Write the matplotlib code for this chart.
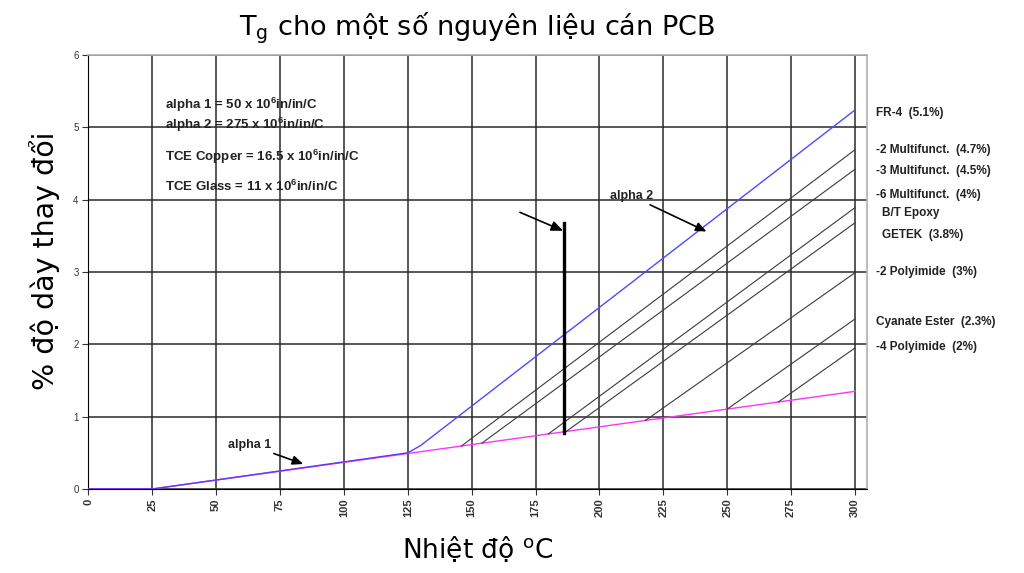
import numpy as np
import matplotlib
matplotlib.use("Agg")
import matplotlib.pyplot as plt

plt.rcParams["mathtext.fontset"] = "custom"
plt.rcParams["mathtext.rm"] = "Liberation Sans:bold"
plt.rcParams["mathtext.it"] = "Liberation Sans:bold"
plt.rcParams["mathtext.bf"] = "Liberation Sans:bold"

# ---- data ----
temp_alpha1 = [0, 25, 300]            # pink (alpha 1) curve, deg C
pct_alpha1 = [0.0, 0.0, 1.35]

temp_fr4 = [0, 25, 125, 130, 300]     # blue FR-4 curve
pct_fr4 = [0.0, 0.0, 0.5, 0.6, 5.24]

tg_values = [146, 154, 180, 187, 218, 250, 270]          # Tg of other laminates
pct_at_300 = [4.69, 4.42, 3.89, 3.68, 2.99, 2.35, 1.95]  # % change at 300 C

material_labels = ["FR-4  (5.1%)", "-2 Multifunct.  (4.7%)", "-3 Multifunct.  (4.5%)",
                   "-6 Multifunct.  (4%)", "B/T Epoxy", "GETEK  (3.8%)",
                   "-2 Polyimide  (3%)", "Cyanate Ester  (2.3%)", "-4 Polyimide  (2%)"]
label_y = [5.2, 4.69, 4.40, 4.065, 3.82, 3.51, 3.0, 2.31, 1.96]
label_indent = [0, 0, 0, 0, 1, 1, 0, 0, 0]

note_lines = ["alpha 1 = 50 x 10$^{6}$in/in/C", "alpha 2 = 275 x 10$^{6}$in/in/C",
              "TCE Copper = 16.5 x 10$^{6}$in/in/C", "TCE Glass = 11 x 10$^{6}$in/in/C"]
note_y = [5.31, 5.03, 4.59, 4.19]

x_ticks = list(range(0, 301, 25))
y_ticks = list(range(0, 7))

tg_marker_temp = 186.2
tg_marker_range = [0.78, 3.68]

# ---- figure ----
fig = plt.figure(figsize=(10.24, 5.73), dpi=100)
ax = fig.add_axes([88.3/1024, 1-489/573, (867-88.3)/1024, (489-55)/573])
ax.set_xlim(0, 304.7)
ax.set_ylim(0, 6)

ax.set_xticks(x_ticks)
ax.set_yticks(y_ticks)
ax.grid(True, color="#2a2a2a", lw=1.1)
ax.set_axisbelow(True)
for s in ["top", "right"]:
    ax.spines[s].set_color("#b0b0b0")
    ax.spines[s].set_linewidth(1.2)
ax.spines["left"].set_color("black")
ax.spines["bottom"].set_color("black")
ax.tick_params(axis="x", labelrotation=90, labelsize=8, length=4, colors="#333333", pad=3)
ax.tick_params(axis="y", labelsize=7, length=4, colors="#333333", pad=3)
for lab in ax.get_xticklabels():
    lab.set_family("Liberation Sans"); lab.set_fontweight("bold")
for lab in ax.get_yticklabels():
    lab.set_family("Liberation Sans")

# lines
ax.plot(temp_alpha1, pct_alpha1, color="#ff33ff", lw=1.0, zorder=3)
for tg, p in zip(tg_values, pct_at_300):
    y0 = np.interp(tg, temp_alpha1, pct_alpha1)
    ax.plot([tg, 300], [y0, p], color="#3a3a3a", lw=0.8, zorder=3)
ax.plot(temp_fr4[:3], pct_fr4[:3], color="#5a3cf0", lw=1.0, zorder=4)
ax.plot(temp_fr4[2:], pct_fr4[2:], color="#4a4aff", lw=1.0, zorder=4)
ax.plot([tg_marker_temp, tg_marker_temp], tg_marker_range, color="black", lw=2.4, zorder=5)

# notes
for t, y in zip(note_lines, note_y):
    ax.text(30.0, y, t, fontsize=9.5, fontweight="bold", family="Liberation Sans",
            va="center", ha="left", color="#222222", zorder=6)

for t, y, ind in zip(material_labels, label_y, label_indent):
    ax.text(308.2 + 2.3*ind, y, t, fontsize=8.5, fontweight="bold", family="Liberation Sans",
            va="center", ha="left", color="#222222", clip_on=False)

arrow = dict(arrowstyle="-|>,head_length=0.7,head_width=0.3", color="black", lw=1.2,
             shrinkA=0, shrinkB=0)
ax.annotate("alpha 2", xy=(241.9, 3.56), xytext=(221.0, 4.05), fontsize=9,
            fontweight="bold", family="Liberation Sans", ha="right", va="center",
            color="#222222", arrowprops=arrow, zorder=6)
ax.annotate("", xy=(185.8, 3.57), xytext=(168.9, 3.825), arrowprops=arrow, zorder=6)
ax.annotate("alpha 1", xy=(84.1, 0.346), xytext=(71.5, 0.61), fontsize=9,
            fontweight="bold", family="Liberation Sans", ha="right", va="center",
            color="#222222", arrowprops=arrow, zorder=6)

ax.set_title("T$_{\\mathregular{g}}$ cho một số nguyên liệu cán PCB", fontsize=19.5, pad=14)
ax.set_xlabel("Nhiệt độ $^{\\mathregular{o}}$C", fontsize=19, labelpad=12)
ax.set_ylabel("% độ dày thay đổi", fontsize=20.5)
ax.yaxis.set_label_coords(-0.036, 0.525)

fig.savefig("out.png", dpi=100)
